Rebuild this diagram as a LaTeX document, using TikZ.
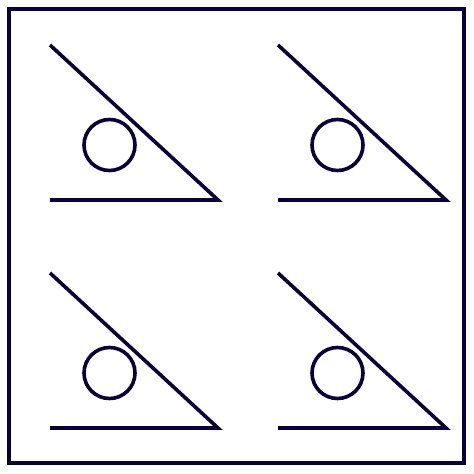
\documentclass[tikz,border=0pt]{standalone}
\definecolor{ink}{RGB}{10,0,60}
\begin{document}
\begin{tikzpicture}[x=1pt,y=-1pt,
  stroke/.style={draw=ink,line width=3.6pt},
  frame/.style={draw=ink,line width=4.2pt}]
\useasboundingbox (0,0) rectangle (474,474);
\draw[frame] (9,9) rectangle (464,463);
\foreach \dx in {0,228}{
  \foreach \dy in {0,228}{
    \begin{scope}[shift={(\dx,\dy)}]
      \draw[stroke] (50,45) -- (218,200) -- (50,200);
      \draw[stroke] (109.5,145) circle (25.5);
    \end{scope}
  }
}
\end{tikzpicture}
\end{document}
